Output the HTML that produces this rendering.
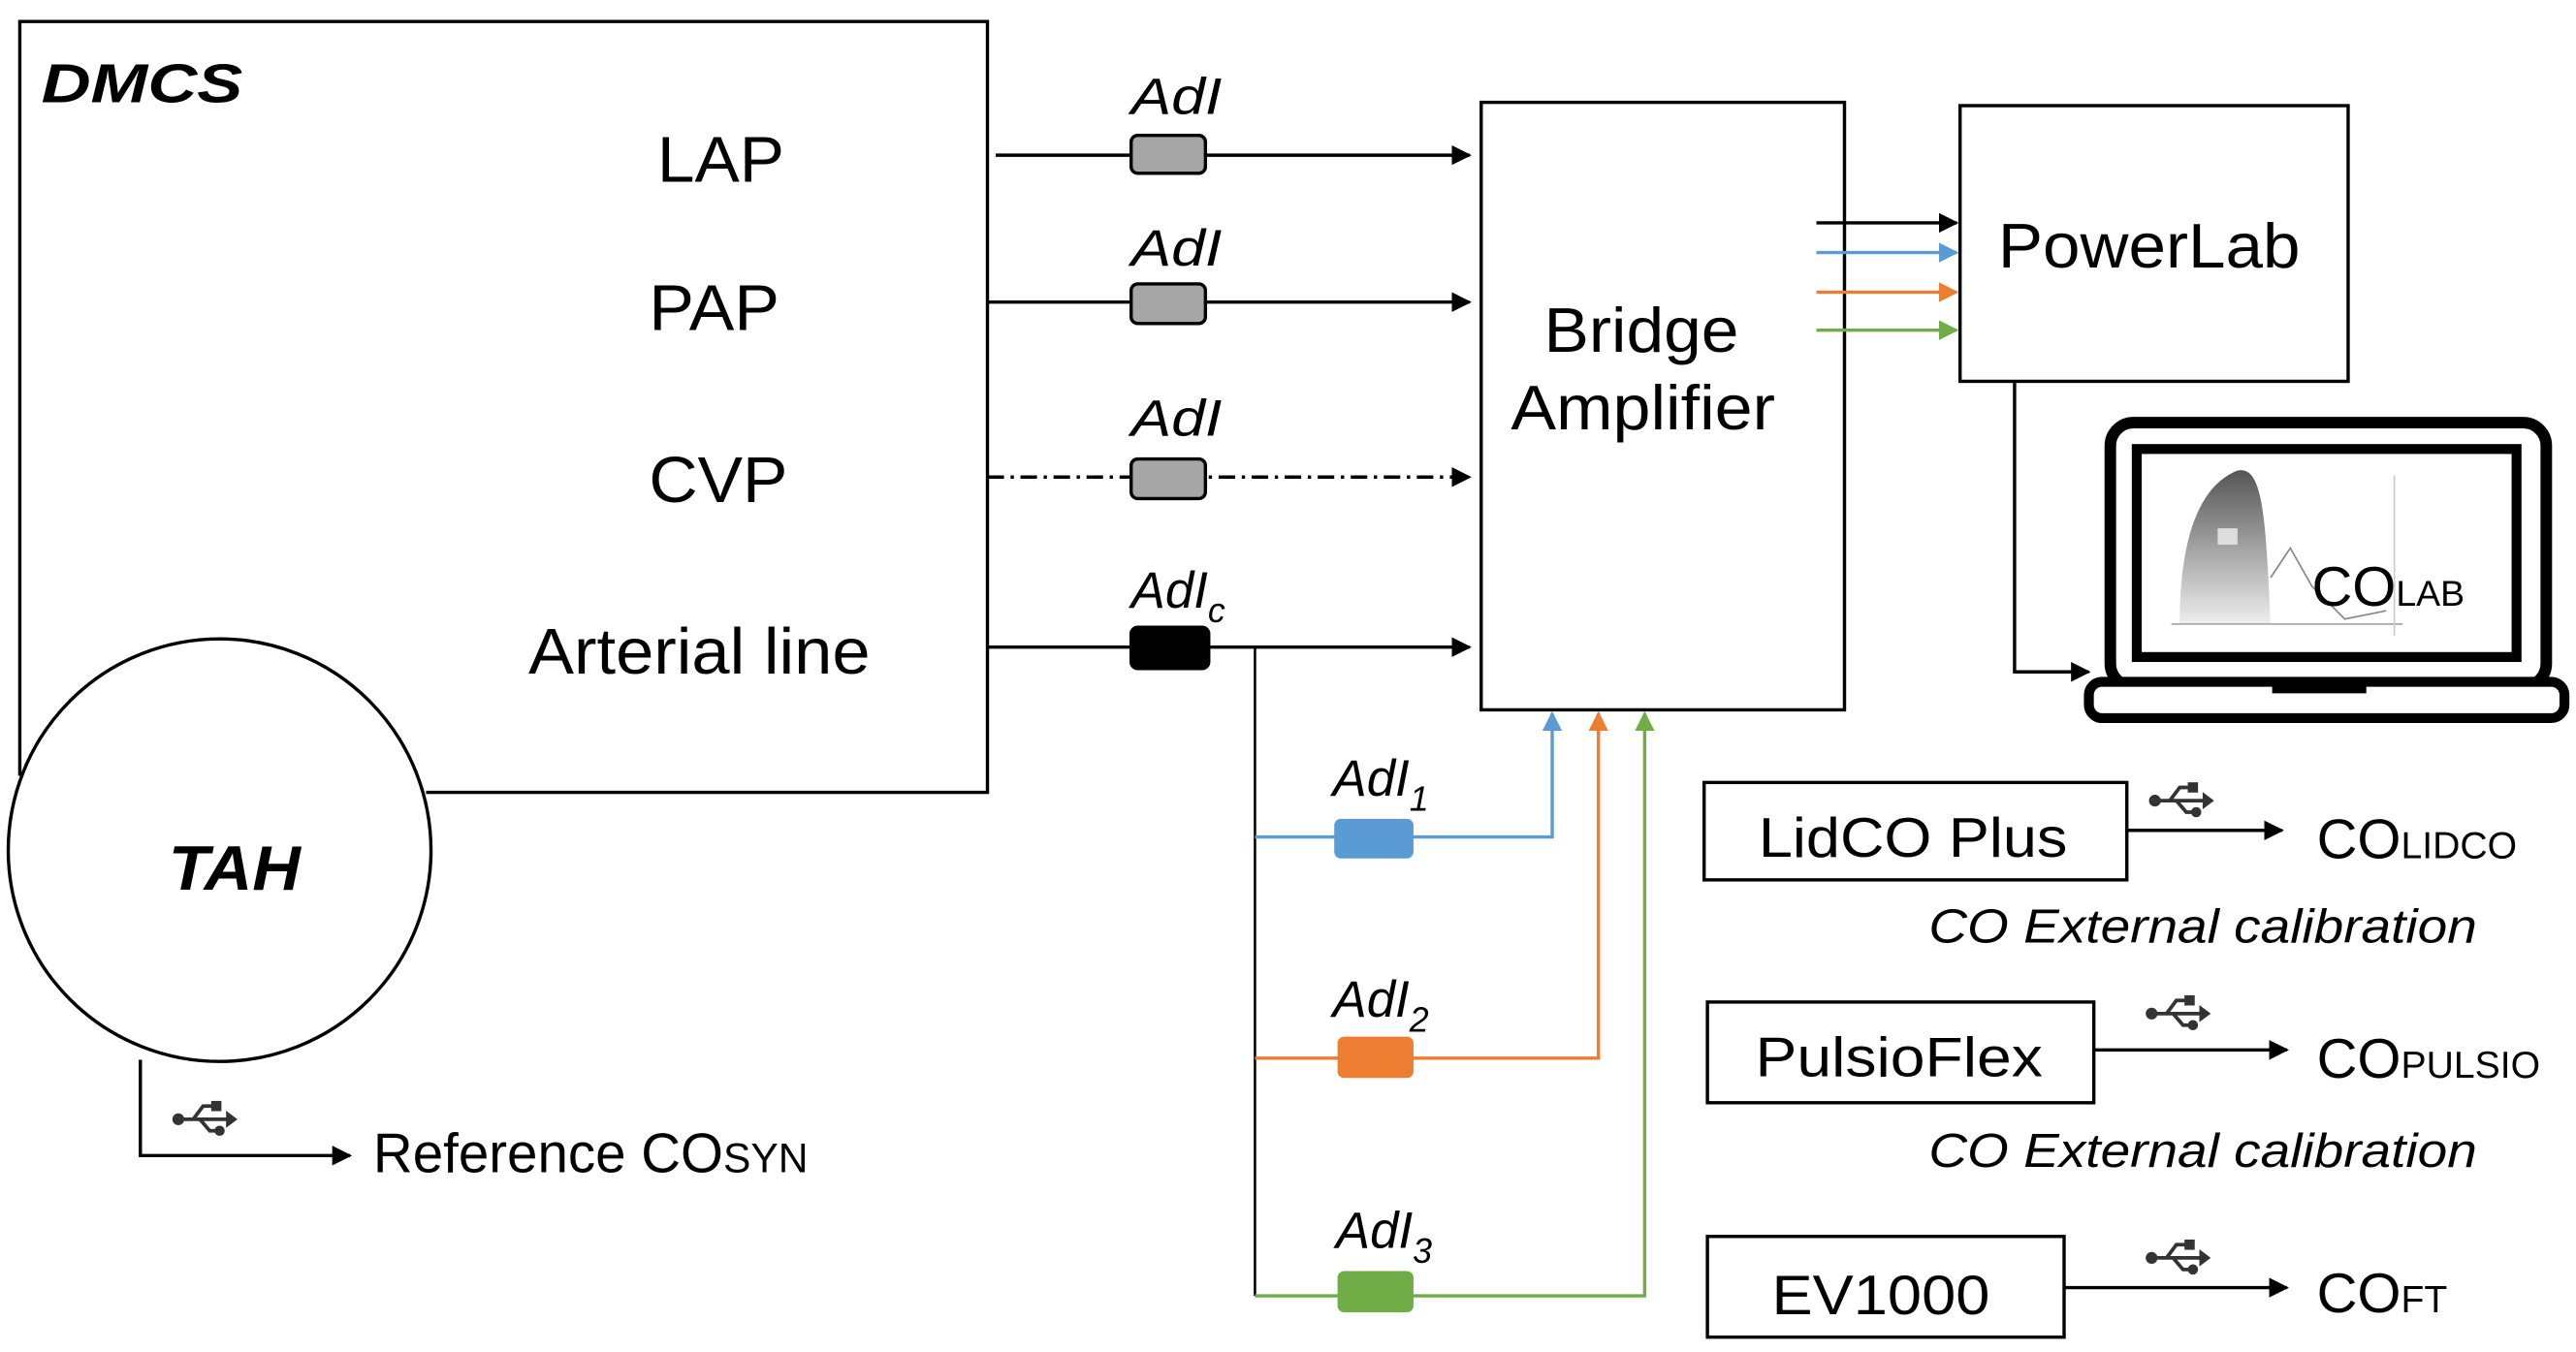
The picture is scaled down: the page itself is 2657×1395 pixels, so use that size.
<!DOCTYPE html>
<html><head><meta charset="utf-8"><style>html,body{margin:0;padding:0;background:#fff}svg{display:block}svg text{font-family:"Liberation Sans",Arial,sans-serif}</style></head><body>
<svg width="2657" height="1395" viewBox="0 0 1560 819" preserveAspectRatio="none" xmlns="http://www.w3.org/2000/svg">
<defs>
<marker id="a" viewBox="0 0 10 10" refX="9" refY="5" markerWidth="6" markerHeight="6" orient="auto"><path d="M0,0L10,5L0,10z" fill="#000"/></marker>
<marker id="ab" viewBox="0 0 10 10" refX="9" refY="5" markerWidth="6" markerHeight="6" orient="auto"><path d="M0,0L10,5L0,10z" fill="#5b9bd5"/></marker>
<marker id="ao" viewBox="0 0 10 10" refX="9" refY="5" markerWidth="6" markerHeight="6" orient="auto"><path d="M0,0L10,5L0,10z" fill="#ed7d31"/></marker>
<marker id="ag" viewBox="0 0 10 10" refX="9" refY="5" markerWidth="6" markerHeight="6" orient="auto"><path d="M0,0L10,5L0,10z" fill="#70ad47"/></marker>
<linearGradient id="g" x1="0" y1="0" x2="0" y2="1"><stop offset="0" stop-color="#555"/><stop offset="1" stop-color="#eee"/></linearGradient>
<g id="usb" fill="none" stroke="#333" stroke-width="2.2"><line x1="-15" y1="0" x2="15" y2="0"/><circle cx="-15" cy="0" r="2.5" fill="#333"/><path d="M-6,0L0,-8L7,-8"/><path d="M-2,0L4,7L9,7"/><rect x="6" y="-10" width="4" height="4" fill="#333"/><circle cx="10" cy="7" r="2" fill="#333"/><path d="M15,-3L19,0L15,3z" fill="#333"/></g>
</defs>
<g fill="none" stroke="#000" stroke-width="2">
<path d="M12,470V13H598V480H258"/>
<circle cx="133" cy="515" r="128" fill="#fff"/>
<rect x="897" y="62" width="220" height="368"/>
<rect x="1187" y="64" width="235" height="167"/>
<rect x="1032" y="474" width="256" height="59"/>
<rect x="1034" y="607" width="234" height="61"/>
<rect x="1034" y="749" width="216" height="61"/>
</g>
<g stroke="#000" stroke-width="2" fill="none">
<line x1="603" y1="94" x2="890" y2="94" marker-end="url(#a)"/>
<line x1="598" y1="183" x2="890" y2="183" marker-end="url(#a)"/>
<line x1="598" y1="289" x2="890" y2="289" stroke-dasharray="10,4,2,4" marker-end="url(#a)"/>
<line x1="598" y1="392" x2="890" y2="392" marker-end="url(#a)"/>
<line x1="1100" y1="135" x2="1185" y2="135" marker-end="url(#a)"/>
<path d="M1220,232V407H1265" marker-end="url(#a)"/>
<path d="M85,642V700H212" marker-end="url(#a)"/>
<line x1="1288" y1="503" x2="1382" y2="503" marker-end="url(#a)"/>
<line x1="1268" y1="636" x2="1385" y2="636" marker-end="url(#a)"/>
<line x1="1250" y1="780" x2="1385" y2="780" marker-end="url(#a)"/>
<line x1="760" y1="392" x2="760" y2="785" stroke-width="1.5"/>
</g>
<line x1="1100" y1="153" x2="1185" y2="153" stroke="#5b9bd5" stroke-width="2" marker-end="url(#ab)"/>
<line x1="1100" y1="177" x2="1185" y2="177" stroke="#ed7d31" stroke-width="2" marker-end="url(#ao)"/>
<line x1="1100" y1="200" x2="1185" y2="200" stroke="#70ad47" stroke-width="2" marker-end="url(#ag)"/>
<path d="M760,507H940V432" stroke="#5b9bd5" stroke-width="2" fill="none" marker-end="url(#ab)"/>
<path d="M760,641H968V432" stroke="#ed7d31" stroke-width="2" fill="none" marker-end="url(#ao)"/>
<path d="M760,785H996V432" stroke="#70ad47" stroke-width="2" fill="none" marker-end="url(#ag)"/>
<g stroke="#000" stroke-width="2">
<rect x="685" y="82" width="45" height="23" rx="4" fill="#a6a6a6"/>
<rect x="685" y="172" width="45" height="24" rx="4" fill="#a6a6a6"/>
<rect x="685" y="278" width="45" height="24" rx="4" fill="#a6a6a6"/>
<rect x="685" y="380" width="47" height="25" rx="4" fill="#000"/>
</g>
<rect x="808" y="496" width="48" height="24" rx="4" fill="#5b9bd5"/>
<rect x="810" y="628" width="46" height="25" rx="4" fill="#ed7d31"/>
<rect x="810" y="770" width="46" height="25" rx="4" fill="#70ad47"/>
<rect x="1278" y="256" width="264" height="160" rx="14" fill="none" stroke="#000" stroke-width="7"/>
<rect x="1294" y="272" width="230" height="126" fill="none" stroke="#000" stroke-width="6"/>
<rect x="1265" y="413" width="288" height="22" rx="8" fill="#fff" stroke="#000" stroke-width="6"/>
<path d="M1376,414H1433V420H1376z" fill="#000"/>
<path d="M1320,378C1320,330 1330,295 1355,285C1370,282 1372,310 1375,378Z" fill="url(#g)"/>
<path d="M1375,350L1387,332L1400,355L1420,375L1445,370" fill="none" stroke="#888" stroke-width="1"/>
<line x1="1315" y1="378" x2="1455" y2="378" stroke="#aaa" stroke-width="1"/>
<line x1="1450" y1="288" x2="1450" y2="385" stroke="#ccc" stroke-width="1"/>
<rect x="1343" y="320" width="12" height="10" fill="#ddd"/>
<use href="#usb" x="123" y="678"/>
<use href="#usb" x="1320" y="485"/>
<use href="#usb" x="1318" y="614"/>
<use href="#usb" x="1318" y="762"/>
<g fill="#000">
<text x="25" y="62" font-size="33" font-weight="bold" font-style="italic" textLength="122" lengthAdjust="spacingAndGlyphs">DMCS</text>
<text x="398" y="110" font-size="39" textLength="77" lengthAdjust="spacingAndGlyphs">LAP</text>
<text x="393" y="200" font-size="39" textLength="79" lengthAdjust="spacingAndGlyphs">PAP</text>
<text x="393" y="304" font-size="39" textLength="84" lengthAdjust="spacingAndGlyphs">CVP</text>
<text x="320" y="408" font-size="39" textLength="207" lengthAdjust="spacingAndGlyphs">Arterial line</text>
<text x="102" y="539" font-size="38" font-weight="bold" font-style="italic" textLength="80" lengthAdjust="spacingAndGlyphs">TAH</text>
<text x="685" y="69" font-size="31" font-style="italic" textLength="55" lengthAdjust="spacingAndGlyphs">AdI</text>
<text x="685" y="161" font-size="31" font-style="italic" textLength="55" lengthAdjust="spacingAndGlyphs">AdI</text>
<text x="685" y="264" font-size="31" font-style="italic" textLength="55" lengthAdjust="spacingAndGlyphs">AdI</text>
<text x="685" y="368" font-size="31" font-style="italic">AdI<tspan font-size="21" dy="9">c</tspan></text>
<text x="807" y="482" font-size="31" font-style="italic">AdI<tspan font-size="21" dy="9">1</tspan></text>
<text x="807" y="616" font-size="31" font-style="italic">AdI<tspan font-size="21" dy="9">2</tspan></text>
<text x="809" y="756" font-size="31" font-style="italic">AdI<tspan font-size="21" dy="9">3</tspan></text>
<text x="935" y="213" font-size="38" textLength="118" lengthAdjust="spacingAndGlyphs">Bridge</text>
<text x="915" y="260" font-size="38" textLength="160" lengthAdjust="spacingAndGlyphs">Amplifier</text>
<text x="1210" y="162" font-size="38" textLength="183" lengthAdjust="spacingAndGlyphs">PowerLab</text>
<text x="1400" y="367" font-size="34">CO<tspan font-size="22">LAB</tspan></text>
<text x="226" y="710" font-size="34"><tspan textLength="212" lengthAdjust="spacingAndGlyphs">Reference CO</tspan><tspan font-size="25">SYN</tspan></text>
<text x="1065" y="519" font-size="34" textLength="187" lengthAdjust="spacingAndGlyphs">LidCO Plus</text>
<text x="1063" y="652" font-size="34" textLength="174" lengthAdjust="spacingAndGlyphs">PulsioFlex</text>
<text x="1073" y="796" font-size="34" textLength="132" lengthAdjust="spacingAndGlyphs">EV1000</text>
<text x="1403" y="520" font-size="34">CO<tspan font-size="23">LIDCO</tspan></text>
<text x="1403" y="653" font-size="34">CO<tspan font-size="23">PULSIO</tspan></text>
<text x="1403" y="795" font-size="34">CO<tspan font-size="23">FT</tspan></text>
<text x="1168" y="571" font-size="29" font-style="italic" textLength="332" lengthAdjust="spacingAndGlyphs">CO External calibration</text>
<text x="1168" y="707" font-size="29" font-style="italic" textLength="332" lengthAdjust="spacingAndGlyphs">CO External calibration</text>
</g>
</svg>
</body></html>
